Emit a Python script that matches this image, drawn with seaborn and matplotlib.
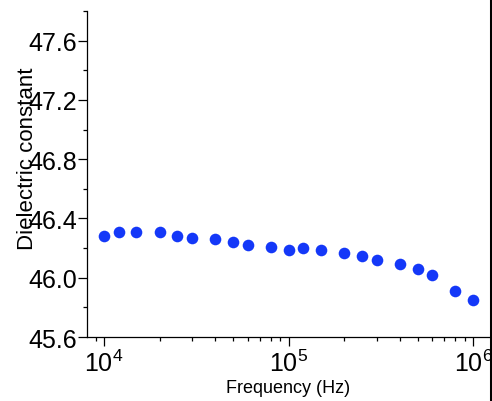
import matplotlib
matplotlib.use('Agg')
import matplotlib.pyplot as plt
import seaborn as sns
from matplotlib.lines import Line2D
from matplotlib.ticker import MultipleLocator, LogLocator

# frequency sweep and measured dielectric constant
freq = [1e4, 1.2e4, 1.5e4, 2e4, 2.5e4, 3e4, 4e4, 5e4, 6e4, 8e4,
        1e5, 1.2e5, 1.5e5, 2e5, 2.5e5, 3e5, 4e5, 5e5, 6e5, 8e5, 1e6]
eps = [46.28, 46.31, 46.31, 46.31, 46.28, 46.27, 46.26, 46.24, 46.22, 46.21,
       46.19, 46.20, 46.19, 46.17, 46.15, 46.12, 46.09, 46.06, 46.02, 45.91, 45.85]

sns.set_style('ticks')
plt.rcParams['font.family'] = ['Liberation Sans', 'DejaVu Sans']
plt.rcParams['mathtext.fontset'] = 'custom'
plt.rcParams['mathtext.rm'] = 'Liberation Sans'
plt.rcParams['mathtext.it'] = 'Liberation Sans:italic'
plt.rcParams['text.color'] = 'black'
plt.rcParams['axes.labelcolor'] = 'black'
plt.rcParams['xtick.color'] = 'black'
plt.rcParams['ytick.color'] = 'black'

fig = plt.figure(figsize=(4.92, 4.02), dpi=100)
ax = fig.add_axes([87/492, 64/402, 402/492, 326/402])

sns.scatterplot(x=freq, y=eps, ax=ax, s=70, color='#1438f8', linewidth=0)

ax.set_xscale('log')
ax.set_xlim(8090, 1.22e6)
ax.set_ylim(45.6, 47.8)
ax.yaxis.set_major_locator(MultipleLocator(0.4))
ax.yaxis.set_minor_locator(MultipleLocator(0.2))
ax.yaxis.set_major_formatter(matplotlib.ticker.FormatStrFormatter('%.1f'))
ax.xaxis.set_major_locator(LogLocator(base=10))
ax.xaxis.set_minor_locator(LogLocator(base=10, subs=range(2, 10)))

for s in ['top', 'right']:
    ax.spines[s].set_visible(False)
for s in ['left', 'bottom']:
    ax.spines[s].set_linewidth(0.9)
    ax.spines[s].set_color('black')

ax.tick_params(axis='both', which='major', direction='out', length=6.3, width=0.9,
               labelsize=18, color='black', labelcolor='black')
ax.tick_params(axis='both', which='minor', direction='out', length=3.2, width=0.9,
               color='black')
ax.tick_params(axis='y', which='major', pad=1)
ax.tick_params(axis='x', which='major', pad=3)

ax.set_xlabel('Frequency (Hz)', fontsize=13, labelpad=2, color='black')
ax.set_ylabel('Dielectric constant', fontsize=16, color='black')
ax.yaxis.set_label_coords(-0.122, 0.549)

# thick border at the right edge of the picture
fig.add_artist(Line2D([490.5/492, 490.5/492], [0, 1], color='black', lw=2.2))

fig.savefig('out.png', dpi=100)
